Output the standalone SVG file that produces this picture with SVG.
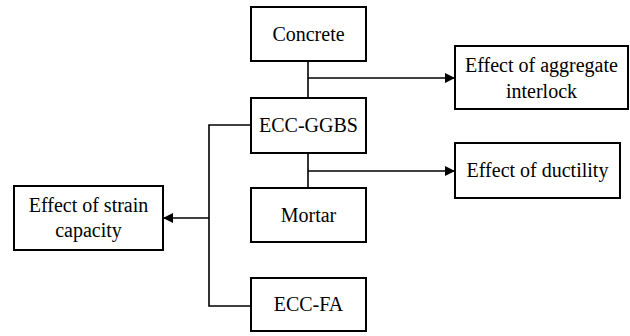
<svg xmlns="http://www.w3.org/2000/svg" width="630" height="336" viewBox="0 0 630 336">
<style>
.box{fill:#fff;stroke:#000;stroke-width:2}
.t{font-family:"Liberation Serif","Times New Roman",serif;font-size:20px;fill:#000;text-anchor:middle}
.c{fill:none;stroke:#000;stroke-width:1.6}
</style>
<defs>
<marker id="ah" markerWidth="10" markerHeight="10" refX="9" refY="5" orient="auto" markerUnits="userSpaceOnUse">
<path d="M0,0 L10,5 L0,10 Z" fill="#000"/>
</marker>
</defs>
<rect width="630" height="336" fill="#fff"/>
<g id="connectors">
<path class="c" d="M308,61 V98"/>
<path class="c" d="M308,78 H454" marker-end="url(#ah)"/>
<path class="c" d="M308,153 V188"/>
<path class="c" d="M308,171 H454" marker-end="url(#ah)"/>
<path class="c" d="M251,125 H209 V306 H251"/>
<path class="c" d="M209,218 H164" marker-end="url(#ah)"/>
</g>
<g id="concrete"><rect class="box" x="251" y="7" width="115" height="54"/><text class="t" x="308.5" y="41">Concrete</text></g>
<g id="ecc-ggbs"><rect class="box" x="251" y="98" width="115" height="55"/><text class="t" x="308.5" y="132">ECC-GGBS</text></g>
<g id="mortar"><rect class="box" x="251" y="188" width="115" height="54"/><text class="t" x="308.5" y="222">Mortar</text></g>
<g id="ecc-fa"><rect class="box" x="251" y="278" width="115" height="53"/><text class="t" x="308.5" y="311">ECC-FA</text></g>
<g id="aggregate"><rect class="box" x="455" y="46" width="173" height="63"/><text class="t" x="541.5" y="72">Effect of aggregate</text><text class="t" x="541.5" y="98">interlock</text></g>
<g id="ductility"><rect class="box" x="455" y="143" width="165" height="55"/><text class="t" x="537.5" y="177">Effect of ductility</text></g>
<g id="strain"><rect class="box" x="14" y="186" width="149" height="64"/><text class="t" x="88.5" y="212">Effect of strain</text><text class="t" x="88.5" y="237">capacity</text></g>
</svg>
